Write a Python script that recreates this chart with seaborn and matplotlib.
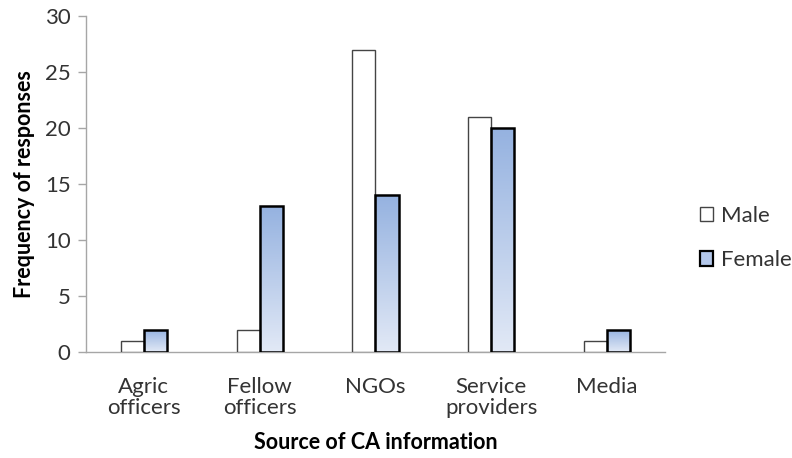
import matplotlib
matplotlib.use("Agg")
import matplotlib.pyplot as plt
import matplotlib.patches as mpatches
import numpy as np
import pandas as pd
import seaborn as sns
from matplotlib.colors import LinearSegmentedColormap

categories = ["Agric\nofficers", "Fellow\nofficers", "NGOs", "Service\nproviders", "Media"]
male = [1, 2, 27, 21, 1]
female = [2, 13, 14, 20, 2]
series = ["Male", "Female"]
yticks = [0, 5, 10, 15, 20, 25, 30]

df = pd.DataFrame({
    "Source": categories * 2,
    "Gender": ["Male"] * len(categories) + ["Female"] * len(categories),
    "Count": male + female,
})

sns.set_theme(style="white")
plt.rcParams["font.family"] = ["Lato", "DejaVu Sans"]

fig = plt.figure(figsize=(7.92, 4.58), dpi=100)
ax = fig.add_axes([0.1086, 0.2314, 0.7310, 0.7336])

sns.barplot(data=df, x="Source", y="Count", hue="Gender", order=categories,
            hue_order=series, palette={"Male": "white", "Female": "#b3c7ea"},
            width=0.4, ax=ax, legend=False, saturation=1)

grey_edge = "#444444"
for p in ax.containers[0]:
    p.set_edgecolor(grey_edge)
    p.set_linewidth(1.0)
    p.set_zorder(3)

cmap = LinearSegmentedColormap.from_list("g", ["#e2e9f6", "#95b2e0"])
grad = np.linspace(0, 1, 256).reshape(-1, 1)
for p in ax.containers[1]:
    x0, y0 = p.get_x(), p.get_y()
    w, h = p.get_width(), p.get_height()
    p.set_facecolor("none")
    p.set_edgecolor("black")
    p.set_linewidth(1.8)
    p.set_zorder(4)
    im = ax.imshow(grad, cmap=cmap, extent=[x0, x0 + w, y0, y0 + h],
                   origin="lower", aspect="auto", zorder=2, interpolation="bicubic")
    im.set_clip_path(p)

ax.set_xlim(-0.5, len(categories) - 0.5)
ax.set_ylim(0, 30)
ax.set_yticks(yticks)
ax.set_yticklabels([str(t) for t in yticks])

for s in ["top", "right"]:
    ax.spines[s].set_visible(False)
for s in ["left", "bottom"]:
    ax.spines[s].set_color("#a6a6a6")
    ax.spines[s].set_linewidth(1.0)

ax.tick_params(axis="y", which="both", left=True, length=6, width=1,
               color="#a6a6a6", labelsize=16, labelcolor="#333333", pad=5)
ax.tick_params(axis="x", bottom=False, labelsize=16, labelcolor="#333333", pad=12)
for t in ax.get_xticklabels():
    t.set_linespacing(1.05)

ax.set_ylabel("Frequency of responses", fontsize=15.5, fontweight="bold",
              color="black", labelpad=7)
ax.set_xlabel("Source of CA information", fontsize=15.5, fontweight="bold",
              color="black", labelpad=10)

handles = [
    mpatches.Patch(facecolor="white", edgecolor=grey_edge, linewidth=1.0, label="Male"),
    mpatches.Patch(facecolor="#b3c7ea", edgecolor="black", linewidth=1.6, label="Female"),
]
leg = fig.legend(handles=handles, loc="center left", bbox_to_anchor=(0.884, 0.48),
                 frameon=False, fontsize=16, handlelength=0.6, handleheight=0.6,
                 handletextpad=0.35, labelspacing=1.1, borderpad=0, borderaxespad=0)
for t in leg.get_texts():
    t.set_color("#333333")

fig.savefig("out.png", dpi=100)
